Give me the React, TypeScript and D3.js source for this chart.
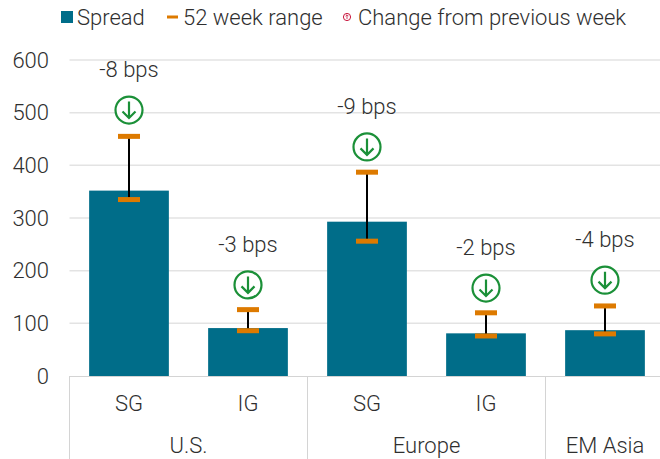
import { useEffect, useRef } from "react";
import * as d3 from "d3";

const groups = ["U.S.", "Europe", "EM Asia"];
const groupSizes = [2, 2, 1];
const categories = ["SG", "IG", "SG", "IG", ""];
const spread = [352, 91, 293, 81, 87];
const rangeHigh = [455, 126, 387, 120, 133];
const rangeLow = [335, 86, 256, 76, 80];
const markerAt = [505, 173, 435, 167, 182];
const changeLabels = ["-8 bps", "-3 bps", "-9 bps", "-2 bps", "-4 bps"];
const yTicks = [0, 100, 200, 300, 400, 500, 600];

const FONT = "Roboto, sans-serif";
const TEAL = "#006d89";
const ORANGE = "#dd7a00";
const GREEN = "#1b9038";
const TEXT = "#2f2f2f";
const LINE = "#e3e3e3";

export default function App() {
  const ref = useRef<SVGSVGElement>(null);

  useEffect(() => {
    const svg = d3.select(ref.current);
    svg.selectAll("*").remove();

    const width = 660;
    const height = 459;
    const margin = { top: 60, bottom: 83, left: 69.5 };
    const step = 119;

    const idx = d3.range(categories.length);
    const x = d3
      .scaleBand<number>()
      .domain(idx)
      .range([margin.left, margin.left + step * idx.length])
      .paddingInner(0.33)
      .paddingOuter(0.165);
    const y = d3.scaleLinear().domain([0, 600]).range([height - margin.bottom, margin.top]);

    const txt = (sel: any, size = 22) =>
      sel
        .attr("font-family", FONT)
        .attr("font-weight", 300)
        .attr("font-size", size)
        .attr("fill", TEXT);

    // gridlines + y labels
    svg
      .append("g")
      .selectAll("line")
      .data(yTicks.slice(1))
      .join("line")
      .attr("x1", margin.left)
      .attr("x2", width)
      .attr("y1", (d) => y(d))
      .attr("y2", (d) => y(d))
      .attr("stroke", LINE)
      .attr("stroke-width", 1.5);

    svg
      .append("g")
      .selectAll("text")
      .data(yTicks)
      .join("text")
      .attr("x", 49)
      .attr("y", (d) => y(d))
      .attr("dy", "0.35em")
      .attr("text-anchor", "end")
      .text((d) => d)
      .call(txt);

    // bars
    svg
      .append("g")
      .selectAll("rect")
      .data(idx)
      .join("rect")
      .attr("x", (i) => x(i)!)
      .attr("width", x.bandwidth())
      .attr("y", (i) => y(spread[i]))
      .attr("height", (i) => y(0) - y(spread[i]))
      .attr("fill", TEAL);

    // x axis, two levels
    const axis = svg.append("g").attr("stroke", "#d4d4d4").attr("stroke-width", 1);
    axis.append("line").attr("x1", margin.left).attr("x2", width).attr("y1", y(0) + 0.5).attr("y2", y(0) + 0.5);

    let start = 0;
    groups.forEach((g, k) => {
      const left = margin.left + start * step;
      axis.append("line").attr("x1", left).attr("x2", left).attr("y1", y(0)).attr("y2", height);
      const size = groupSizes[k];
      svg
        .append("text")
        .attr("x", k === 2 ? x(start)! + x.bandwidth() / 2 : left + (size * step) / 2)
        .attr("y", 445)
        .attr("dy", "0.35em")
        .attr("text-anchor", "middle")
        .text(g)
        .call(txt);
      start += size;
    });

    svg
      .append("g")
      .selectAll("text")
      .data(idx)
      .join("text")
      .attr("x", (i) => x(i)! + x.bandwidth() / 2)
      .attr("y", 403)
      .attr("dy", "0.35em")
      .attr("text-anchor", "middle")
      .text((i) => categories[i])
      .call(txt);

    // 52 week range
    const ranges = svg.append("g");
    idx.forEach((i) => {
      const cx = x(i)! + x.bandwidth() / 2;
      ranges
        .append("line")
        .attr("x1", cx)
        .attr("x2", cx)
        .attr("y1", y(rangeHigh[i]))
        .attr("y2", y(rangeLow[i]))
        .attr("stroke", "#000")
        .attr("stroke-width", 2);
      [rangeHigh[i], rangeLow[i]].forEach((v) => {
        ranges
          .append("rect")
          .attr("x", cx - 11)
          .attr("width", 22)
          .attr("y", y(v) - 2.5)
          .attr("height", 5)
          .attr("fill", ORANGE);
      });
    });

    // change markers
    const markers = svg.append("g");
    idx.forEach((i) => {
      const cx = x(i)! + x.bandwidth() / 2;
      const cy = y(markerAt[i]);
      const m = markers.append("g").attr("transform", `translate(${cx},${cy})`);
      m.append("circle").attr("r", 13.5).attr("fill", "#fff").attr("stroke", GREEN).attr("stroke-width", 2.2);
      m.append("path")
        .attr("d", "M0,-8.5V7.5M-6.5,1.5L0,8L6.5,1.5")
        .attr("fill", "none")
        .attr("stroke", GREEN)
        .attr("stroke-width", 2.2);
      svg
        .append("text")
        .attr("x", cx)
        .attr("y", cy - 40.5)
        .attr("dy", "0.35em")
        .attr("text-anchor", "middle")
        .text(changeLabels[i])
        .call(txt);
    });

    // legend
    const legend = svg.append("g");
    legend.append("rect").attr("x", 61).attr("y", 11).attr("width", 12).attr("height", 12).attr("fill", TEAL);
    legend.append("text").attr("x", 77).attr("y", 17).attr("dy", "0.35em").text("Spread").call(txt);
    legend.append("rect").attr("x", 167).attr("y", 15.5).attr("width", 11).attr("height", 3).attr("fill", ORANGE);
    legend.append("text").attr("x", 183).attr("y", 17).attr("dy", "0.35em").text("52 week range").call(txt);
    legend.append("circle").attr("cx", 347).attr("cy", 17).attr("r", 3.6).attr("fill", "#fff").attr("stroke", "#c8143c").attr("stroke-width", 1);
    legend.append("path").attr("d", "M347,19V15M345.6,16.2L347,14.8L348.4,16.2").attr("fill", "none").attr("stroke", "#c8143c").attr("stroke-width", 0.8);
    legend.append("text").attr("x", 358).attr("y", 17).attr("dy", "0.35em").text("Change from previous week").call(txt);
  }, []);

  return <svg ref={ref} width={660} height={459} style={{ position: "fixed", left: 0, top: 0, background: "#fff" }} />;
}
